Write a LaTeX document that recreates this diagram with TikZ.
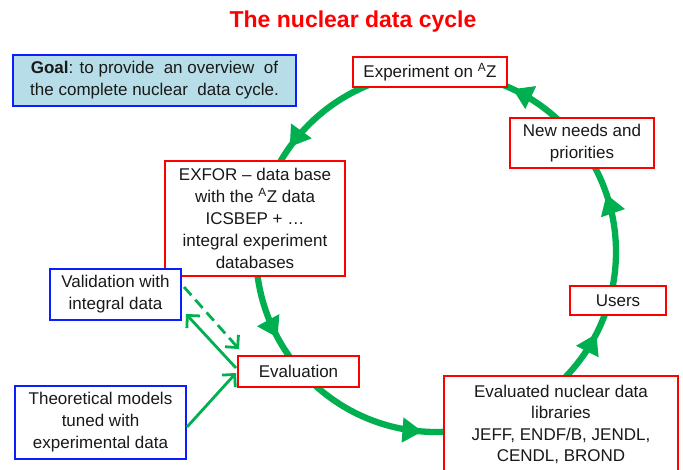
\documentclass[tikz,border=0pt]{standalone}
\usepackage{fontspec}
\setmainfont{Liberation Sans}
\usetikzlibrary{arrows.meta,decorations.markings,calc}
\definecolor{cgreen}{RGB}{0,176,80}
\definecolor{cred}{RGB}{255,0,0}
\definecolor{cblue}{RGB}{10,30,255}
\definecolor{goalfill}{RGB}{183,221,232}
\definecolor{txt}{RGB}{25,25,25}
\tikzset{ringtip/.tip={Triangle[length=20pt,width=24pt]}}
\begin{document}
\begin{tikzpicture}[x=1pt,y=1pt,
  redbox/.style={draw=cred,line width=2pt,fill=white,align=center,inner sep=0pt,
    font=\fontsize{17}{22}\selectfont,text=txt},
  bluebox/.style={redbox,draw=cblue},
  cyclering/.style={cgreen,line width=6.3pt,postaction={decorate},
    decoration={markings,
      mark=at position 0.052 with {\arrow{ringtip}},
      mark=at position 0.180 with {\arrow{ringtip}},
      mark=at position 0.401 with {\arrow{ringtip}},
      mark=at position 0.579 with {\arrow{ringtip}},
      mark=at position 0.738 with {\arrow{ringtip}},
      mark=at position 0.925 with {\arrow{ringtip}}}},
  thinarrow/.style={cgreen,line width=2.8pt,-{Straight Barb[length=9pt,width=18pt]}},
]
\useasboundingbox (0,0) rectangle (683,-469);

% cycle ring
\coordinate (c) at (436,-252);
\draw[cyclering] (c) ++(0:180) arc[start angle=0,end angle=360,radius=180];

% title
\node[text=cred,font=\fontsize{23}{27}\selectfont\bfseries] (title) at (353,-22) {The nuclear data cycle};

% goal
\node[bluebox,fill=goalfill,line width=2.4pt,minimum width=283pt,minimum height=51pt] (goal) at (154.5,-80.5)
  {\textbf{Goal}: to provide \ an overview \ of\\the complete nuclear \ data cycle.};

% cycle boxes
\node[redbox,minimum width=154pt,minimum height=30pt] (exp) at (430,-72) {Experiment on \textsuperscript{A}Z};
\node[redbox,minimum width=144pt,minimum height=50pt] (needs) at (582,-143) {New needs and\\priorities};
\node[redbox,minimum width=180pt,minimum height=115pt] (exfor) at (255,-218.5)
  {EXFOR -- data base\\with the \textsuperscript{A}Z data\\ICSBEP + \dots\\integral experiment\\databases};
\node[redbox,minimum width=96pt,minimum height=29pt] (users) at (618,-300.5) {Users};
\node[redbox,minimum width=121pt,minimum height=31pt] (eval) at (298.5,-371.5) {Evaluation};
\node[redbox,minimum width=234pt,minimum height=97pt,font=\fontsize{17}{21.5}\selectfont] (lib) at (561,-424.5)
  {Evaluated nuclear data\\libraries\\JEFF, ENDF/B, JENDL,\\CENDL, BROND};

% side boxes
\node[bluebox,minimum width=131pt,minimum height=51pt] (val) at (115.5,-294.5) {Validation with\\integral data};
\node[bluebox,minimum width=171pt,minimum height=73pt] (theo) at (100.5,-422.5) {Theoretical models\\tuned with\\experimental data};

% side arrows
\draw[thinarrow,dash pattern=on 11pt off 6pt] ($(val.east)+(2,7.5)$) -- ($(eval.north west)+(2,6)$);
\draw[thinarrow] ($(eval.west)+(-1,3.5)$) -- ($(val.south east)+(4,7)$);
\draw[thinarrow] ($(theo.east)+(0,-4.5)$) -- ($(eval.west)+(-1,-1.5)$);
\end{tikzpicture}
\end{document}
